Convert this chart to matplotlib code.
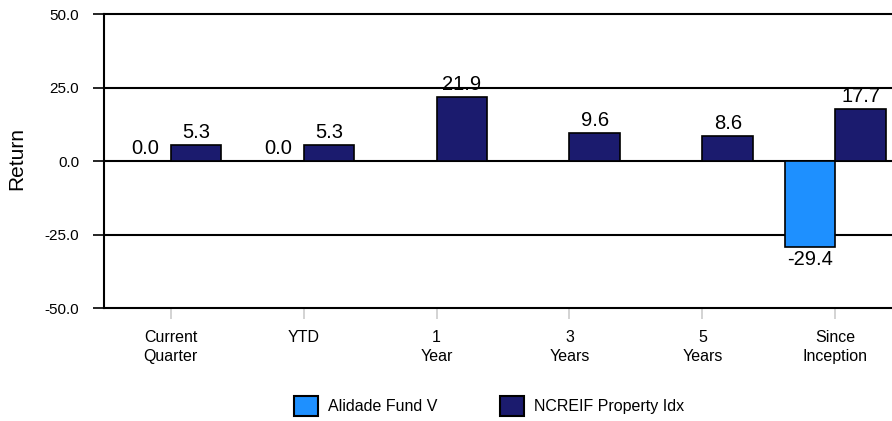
import numpy as np
import matplotlib.pyplot as plt
from matplotlib.patches import Patch

plt.rcParams['font.family'] = ['Liberation Sans', 'DejaVu Sans']

categorias = ['Current\nQuarter', 'YTD', '1\nYear', '3\nYears', '5\nYears', 'Since\nInception']
fundo = [0.0, 0.0, np.nan, np.nan, np.nan, -29.4]
indice = [5.3, 5.3, 21.9, 9.6, 8.6, 17.7]
series = ['Alidade Fund V', 'NCREIF Property Idx']
cores = ['#1e90ff', '#1b1b6e']

fig = plt.figure(figsize=(8.92, 4.21), dpi=100)
graf = fig.add_axes([0.1166, 0.2684, 0.8946, 0.6983])

x = np.arange(len(categorias))
larg = 0.38

# grade horizontal preta atrás das barras
for v in [25, 0, -25]:
    graf.axhline(v, color='black', linewidth=1.5, zorder=1)

b1 = graf.bar(x - larg / 2, np.nan_to_num(fundo), larg, color=cores[0],
              edgecolor='black', linewidth=1.2, zorder=2)
b2 = graf.bar(x + larg / 2, indice, larg, color=cores[1],
              edgecolor='black', linewidth=1.2, zorder=2)

# rótulos de valor
tam = 14.5
for xi, v in zip(x, fundo):
    if np.isnan(v):
        continue
    if v < 0:
        graf.text(xi - larg / 2, v - 1.0, f'{v:.1f}', ha='center', va='top', fontsize=tam)
    else:
        graf.text(xi - larg / 2, v + 1.0, f'{v:.1f}', ha='center', va='bottom', fontsize=tam)
for xi, v in zip(x, indice):
    graf.text(xi + larg / 2, v + 1.0, f'{v:.1f}', ha='center', va='bottom', fontsize=tam)

graf.set_xlim(-0.5, len(categorias) - 0.5)
graf.set_ylim(-50, 50)
graf.set_yticks([-50, -25, 0, 25, 50])
graf.set_yticklabels([f'{t:.1f}' for t in [-50, -25, 0, 25, 50]], fontsize=11)
graf.set_xticks(x)
graf.set_xticklabels(categorias, fontsize=11.5, linespacing=1.35)
graf.tick_params(axis='y', length=8, width=1.2, pad=10)
graf.tick_params(axis='x', length=8, width=1.2, color='#cccccc', pad=8)

for lado in ['left', 'top', 'bottom', 'right']:
    graf.spines[lado].set_linewidth(1.5)

graf.set_ylabel('Return', fontsize=15)
graf.yaxis.set_label_coords(-0.097, 0.51)

alcas = [Patch(facecolor=c, edgecolor='black', linewidth=1.5) for c in cores]
fig.legend(alcas, series, loc='center', bbox_to_anchor=(0.548, 0.036), ncol=2,
           frameon=False, fontsize=11.5, handlelength=1.55, handleheight=1.5,
           columnspacing=3.9, handletextpad=0.6, borderpad=0, borderaxespad=0)

fig.savefig('out.png', dpi=100)
